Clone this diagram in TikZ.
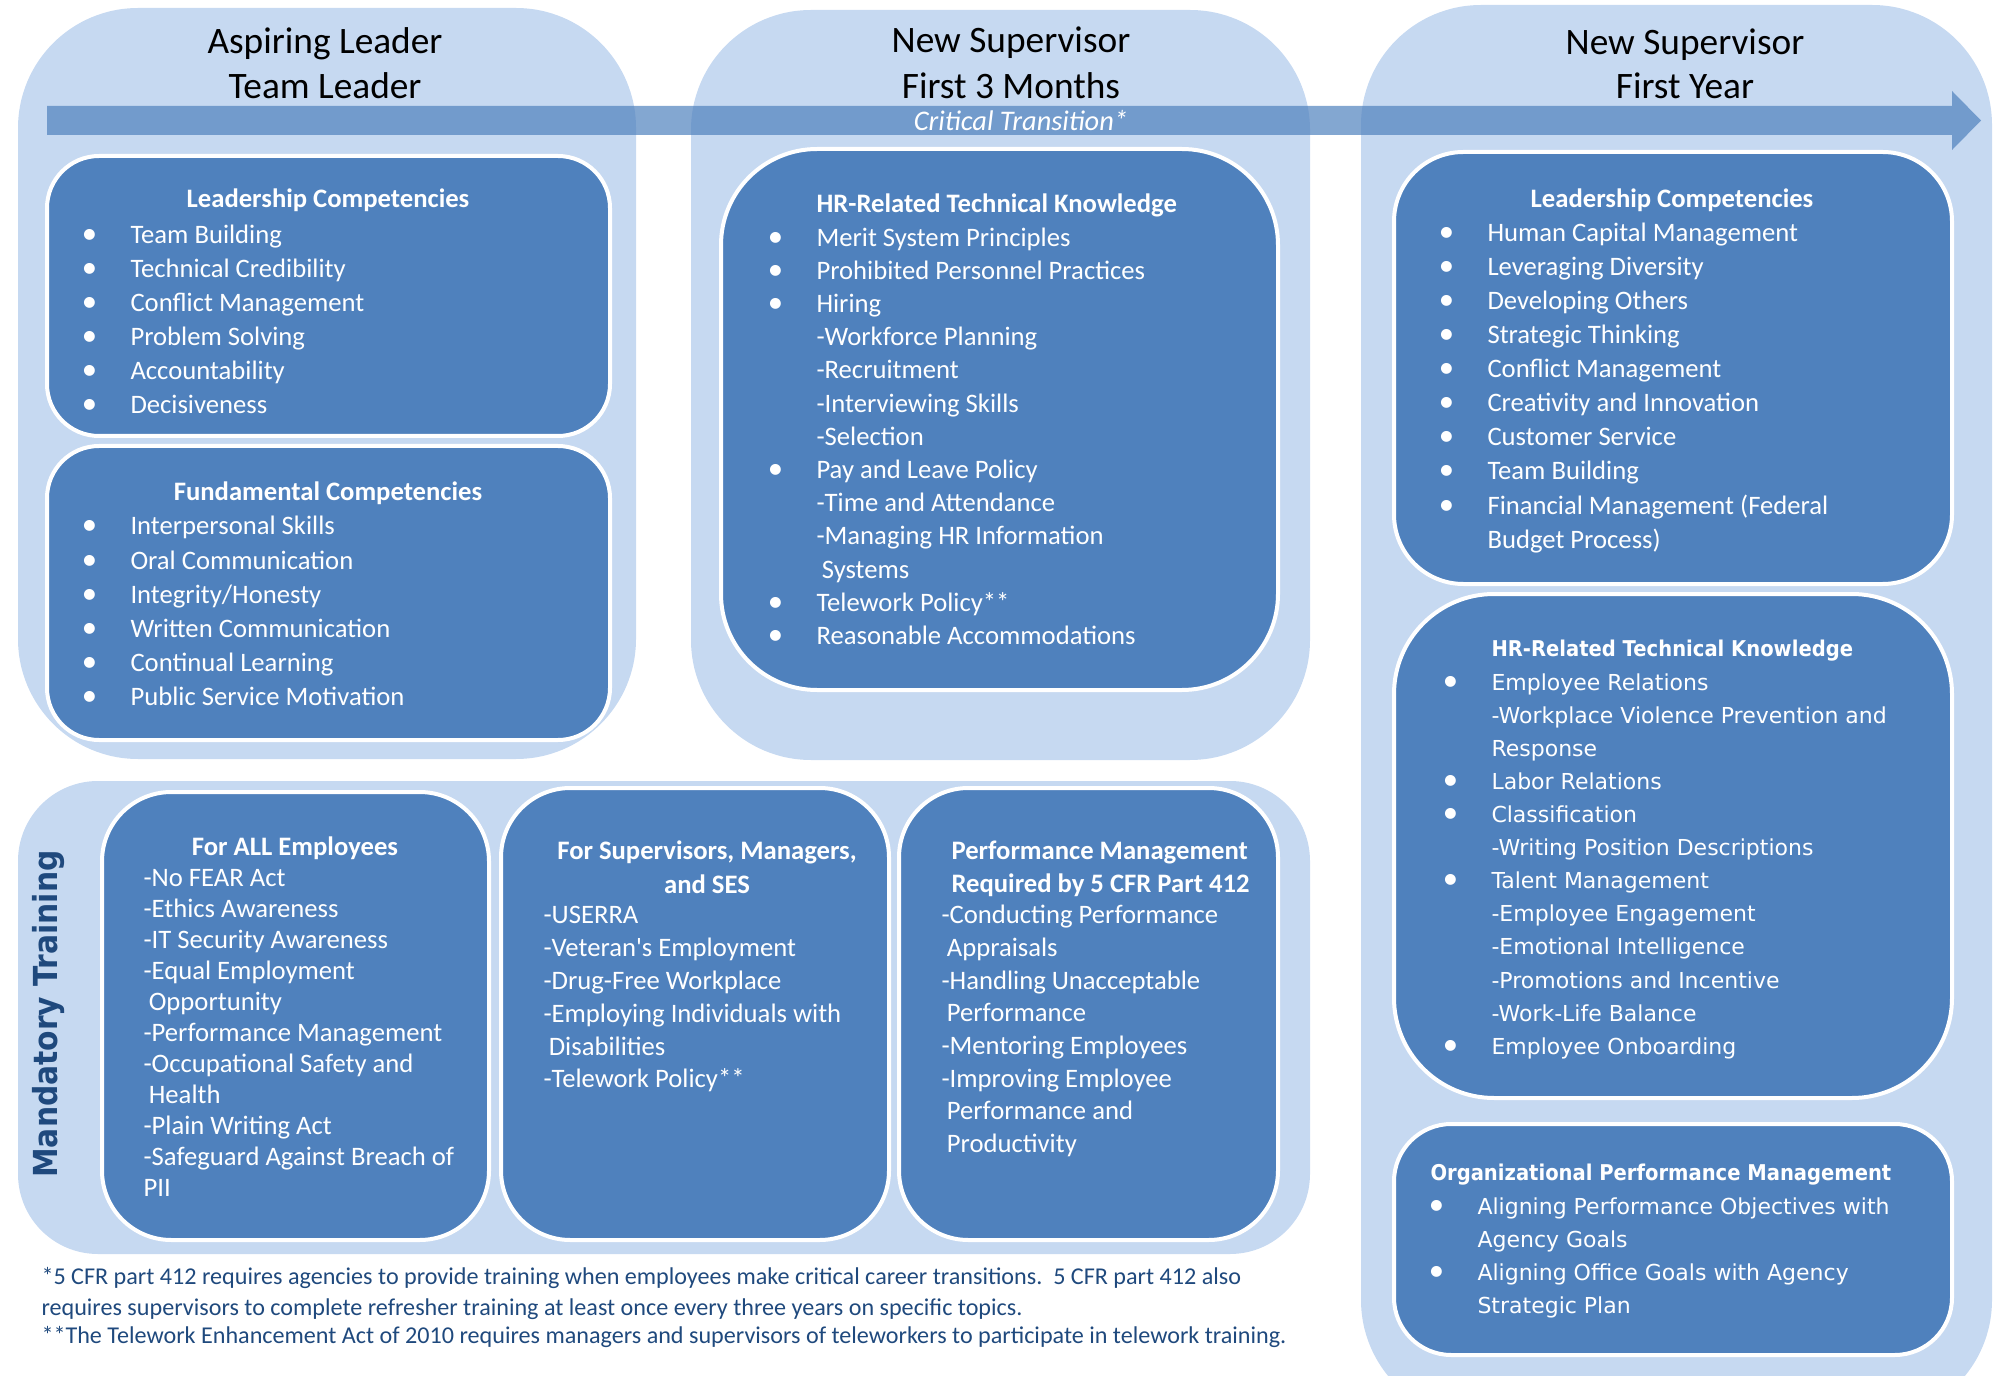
\documentclass[tikz,border=0pt]{standalone}
\usepackage{fontspec}
\setmainfont{Carlito}
\newfontfamily\verdfont{DejaVu Sans}[BoldFeatures={FakeStretch=0.9}]
\definecolor{stagefill}{RGB}{198,217,241}
\definecolor{topicfill}{RGB}{79,129,189}
\definecolor{noteblue}{RGB}{31,73,125}
\newcommand\bul{\llap{{\normalfont\fontsize{23}{24}\selectfont\textbullet}\hspace{25pt}}}
\newcommand\ind{\hspace*{4pt}}

\tikzset{every picture/.style={line width=0.75pt}}
\tikzset{
  stage/.style={fill=stagefill},
  topic/.style={fill=topicfill, draw=white, line width=3pt},
  head/.style={anchor=base, inner sep=0pt, font=\fontsize{28}{34}\selectfont},
  ttl/.style={anchor=base, inner sep=0pt, text=white, font=\bfseries\fontsize{20}{24}\selectfont},
  ttlw/.style={ttl, anchor=base west},
  itm/.style={anchor=base west, inner sep=0pt, text=white, font=\fontsize{20}{24}\selectfont},
  vitm/.style={itm, font=\verdfont\fontsize{16.5}{20}\selectfont},
  vttl/.style={itm, font=\verdfont\bfseries\fontsize{16.3}{20}\selectfont},
  note/.style={anchor=base west, inner sep=0pt, text=noteblue, font=\fontsize{18.1}{22}\selectfont},
}

\begin{document}
\begin{tikzpicture}[x=0.75pt,y=0.75pt,yscale=-1,xscale=1]
\path [use as bounding box] (0,0) rectangle (2000,1376);
\clip (0,0) rectangle (2000,1376);

%Rounded Rect: stages
\fill [stage, rounded corners=90pt] (18,8) rectangle (636,759);
\fill [stage, rounded corners=90pt] (691,10) rectangle (1310,760);
\fill [stage, rounded corners=90pt] (1361,5) rectangle (1992,1420);
\fill [stage, rounded corners=60pt] (18,781) rectangle (1310,1254);

%Arrow: critical transition
\fill [topicfill, opacity=0.7] (47,106) -- (1952,106) -- (1952,91) -- (1981,120.5) -- (1952,150) -- (1952,135) -- (47,135) -- cycle;

%Rounded Rect: topics
\draw [topic, rounded corners=39pt] (47,156) rectangle (610,436);
\draw [topic, rounded corners=39pt] (47,446) rectangle (610,740);
\draw [topic, rounded corners=72pt] (721,149) rectangle (1278,690);
\draw [topic, rounded corners=52pt] (1394,152) rectangle (1952,584);
\draw [topic, rounded corners=75pt] (1394,594) rectangle (1952,1098);
\draw [topic, rounded corners=43pt] (1394,1124) rectangle (1952,1355);
\draw [topic, rounded corners=52pt] (102,792) rectangle (489,1240);
\draw [topic, rounded corners=52pt] (501,788) rectangle (889,1240);
\draw [topic, rounded corners=52pt] (899,788) rectangle (1278,1240);

% Text Node: headers
\node [head] (hd1a) at (325,54) {Aspiring Leader};
\node [head] (hd1b) at (325,99) {Team Leader};
\node [head] (hd2a) at (1011,53) {New Supervisor};
\node [head] (hd2b) at (1011,99) {First 3 Months};
\node [head] (hd3a) at (1685,55) {New Supervisor};
\node [head] (hd3b) at (1685,99) {First Year};
\node [anchor=base, inner sep=0pt, text=white, font=\itshape\fontsize{21.3}{24}\selectfont] (crit) at (1021,131) {Critical Transition*};

% Text Node: aspiring leader
\node [ttl] (lead1) at (328,208) {Leadership Competencies};
\foreach \t [count=\i] in {Team Building, Technical Credibility, Conflict Management, Problem Solving, Accountability, Decisiveness}
  \node [itm] (lead1-\i) at (130,210+34*\i) {\bul \t};
\node [ttl] (fund) at (328,501) {Fundamental Competencies};
\foreach \t [count=\i] in {Interpersonal Skills, Oral Communication, {Integrity/Honesty}, Written Communication, Continual Learning, Public Service Motivation}
  \node [itm] (fund-\i) at (130,501+34*\i) {\bul \t};

% Text Node: first 3 months
\node [ttlw] (hr1) at (816,213) {HR-Related Technical Knowledge};
\foreach \t [count=\i] in {\bul Merit System Principles, \bul Prohibited Personnel Practices, \bul Hiring, -Workforce Planning, -Recruitment, -Interviewing Skills, -Selection, \bul Pay and Leave Policy, -Time and Attendance, -Managing HR Information, \ind Systems, \bul Telework Policy**, \bul Reasonable Accommodations}
  \node [itm] (hr1-\i) at (816,213+33.2*\i) {\t};

% Text Node: first year
\node [ttl] (lead2) at (1672,208) {Leadership Competencies};
\foreach \t [count=\i] in {\bul Human Capital Management, \bul Leveraging Diversity, \bul Developing Others, \bul Strategic Thinking, \bul Conflict Management, \bul Creativity and Innovation, \bul Customer Service, \bul Team Building, \bul Financial Management (Federal, Budget Process)}
  \node [itm] (lead2-\i) at (1487,208+34*\i) {\t};
\node [vttl] (hr2) at (1491,656) {HR-Related Technical Knowledge};
\foreach \t [count=\i] in {\bul Employee Relations, -Workplace Violence Prevention and, Response, \bul Labor Relations, \bul Classification, -Writing Position Descriptions, \bul Talent Management, -Employee Engagement, -Emotional Intelligence, -Promotions and Incentive, -Work-Life Balance, \bul Employee Onboarding}
  \node [vitm] (hr2-\i) at (1491,657+33.1*\i) {\t};
\node [vttl] (opm) at (1430,1180) {Organizational Performance Management};
\foreach \t [count=\i] in {\bul Aligning Performance Objectives with, Agency Goals, \bul Aligning Office Goals with Agency, Strategic Plan}
  \node [vitm] (opm-\i) at (1477,1181+33*\i) {\t};

% Text Node: mandatory training
\node [rotate=90, inner sep=0pt, text=noteblue, font=\verdfont\bfseries\fontsize{24.8}{28}\selectfont] (mand) at (49,1014) {Mandatory Training};
\node [ttl] (allemp) at (295,855) {For ALL Employees};
\foreach \t [count=\i] in {-No FEAR Act, -Ethics Awareness, -IT Security Awareness, -Equal Employment, \ind Opportunity, -Performance Management, -Occupational Safety and, \ind Health, -Plain Writing Act, -Safeguard Against Breach of, PII}
  \node [itm] (allemp-\i) at (143,855+31*\i) {\t};
\node [ttl] (supv1) at (707,859) {For Supervisors, Managers,};
\node [ttl] (supv2) at (707,893) {and SES};
\foreach \t [count=\i] in {-USERRA, -Veteran\textquotesingle s Employment, -Drug-Free Workplace, -Employing Individuals with, \ind Disabilities, -Telework Policy**}
  \node [itm] (supv-\i) at (543,891+32.8*\i) {\t};
\node [ttlw] (perf1) at (951,859) {Performance Management};
\node [ttlw] (perf2) at (951,892) {Required by 5 CFR Part 412};
\foreach \t [count=\i] in {-Conducting Performance, \ind Appraisals, -Handling Unacceptable, \ind Performance, -Mentoring Employees, -Improving Employee, \ind Performance and, \ind Productivity}
  \node [itm] (perf-\i) at (941,891+32.7*\i) {\t};

% Text Node: footnotes
\node [note] (fn1) at (41,1284) {*5 CFR part 412 requires agencies to provide training when employees make critical career transitions.\ \ 5 CFR part 412 also};
\node [note] (fn2) at (41,1315) {requires supervisors to complete refresher training at least once every three years on specific topics.};
\node [note] (fn3) at (41,1343) {**The Telework Enhancement Act of 2010 requires managers and supervisors of teleworkers to participate in telework training.};
\end{tikzpicture}
\end{document}
